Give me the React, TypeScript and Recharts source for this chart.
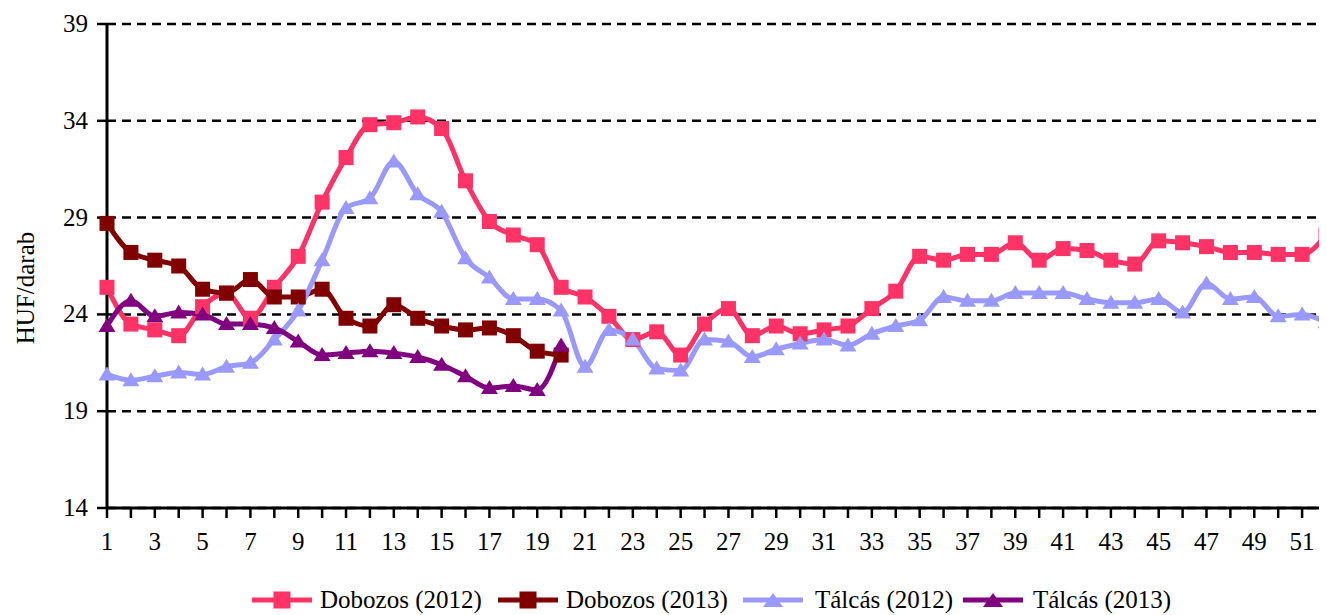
import React from "react";
import { LineChart, Line, XAxis, YAxis, CartesianGrid, Legend } from "recharts";

const weeks = Array.from({ length: 52 }, (_, i) => i + 1);
const xTicks = weeks;
const yTicks = [14, 19, 24, 29, 34, 39];

const dobozos2012 = [
  25.4, 23.5, 23.2, 22.9, 24.4, 25.1, 23.8, 25.4, 27.0, 29.8,
  32.1, 33.8, 33.9, 34.2, 33.6, 30.9, 28.8, 28.1, 27.6, 25.4,
  24.9, 23.9, 22.7, 23.1, 21.9, 23.5, 24.3, 22.9, 23.4, 23.0,
  23.2, 23.4, 24.3, 25.2, 27.0, 26.8, 27.1, 27.1, 27.7, 26.8,
  27.4, 27.3, 26.8, 26.6, 27.8, 27.7, 27.5, 27.2, 27.2, 27.1,
  27.1, 28.1,
];
const dobozos2013 = [
  28.7, 27.2, 26.8, 26.5, 25.3, 25.1, 25.8, 24.9, 24.9, 25.3,
  23.8, 23.4, 24.5, 23.8, 23.4, 23.2, 23.3, 22.9, 22.1, 21.9,
];
const talcas2012 = [
  20.9, 20.6, 20.8, 21.0, 20.9, 21.3, 21.5, 22.7, 24.2, 26.8,
  29.5, 30.0, 31.9, 30.2, 29.3, 26.9, 25.9, 24.8, 24.8, 24.2,
  21.3, 23.2, 22.7, 21.2, 21.1, 22.7, 22.6, 21.8, 22.2, 22.5,
  22.7, 22.4, 23.0, 23.4, 23.7, 24.9, 24.7, 24.7, 25.1, 25.1,
  25.1, 24.8, 24.6, 24.6, 24.8, 24.1, 25.6, 24.8, 24.9, 23.9,
  24.0, 23.6,
];
const talcas2013 = [
  23.4, 24.7, 23.9, 24.1, 24.0, 23.5, 23.5, 23.3, 22.6, 21.9,
  22.0, 22.1, 22.0, 21.8, 21.4, 20.8, 20.2, 20.3, 20.1, 22.4,
];

const seriesInfo = [
  { key: "d2012", name: "Dobozos (2012)", color: "#FF3366", marker: "square" },
  { key: "d2013", name: "Dobozos (2013)", color: "#800000", marker: "square" },
  { key: "t2012", name: "Tálcás (2012)", color: "#9999FF", marker: "triangle" },
  { key: "t2013", name: "Tálcás (2013)", color: "#800080", marker: "triangle" },
];

const data = weeks.map((w, i) => ({
  week: w,
  d2012: dobozos2012[i] ?? null,
  d2013: dobozos2013[i] ?? null,
  t2012: talcas2012[i] ?? null,
  t2013: talcas2013[i] ?? null,
}));

const FONT = "Liberation Serif, Times New Roman, DejaVu Serif, serif";
const FS = 25;

const makeDot = (marker: string, color: string) => (props: any) => {
  const { cx, cy, index } = props;
  if (cx == null || cy == null || props.value == null) return <g key={index} />;
  if (marker === "square") {
    return <rect key={index} x={cx - 7.5} y={cy - 7.5} width={15} height={15} fill={color} />;
  }
  return (
    <polygon
      key={index}
      points={`${cx},${cy - 8} ${cx + 8.5},${cy + 6} ${cx - 8.5},${cy + 6}`}
      fill={color}
    />
  );
};

const XTick = (props: any) => {
  const { x, y, payload } = props;
  if (payload.value % 2 === 0) return <g />;
  return (
    <text x={x} y={y + 30} textAnchor="middle" style={{ fontFamily: FONT }} fontSize={FS} fill="#000">
      {payload.value}
    </text>
  );
};

const YTick = (props: any) => {
  const { x, y, payload } = props;
  return (
    <text x={x - 7} y={y + 8} textAnchor="end" style={{ fontFamily: FONT }} fontSize={FS} fill="#000">
      {payload.value}
    </text>
  );
};

const YLabel = () => (
  <text
    x={0}
    y={0}
    transform="translate(26, 280) rotate(-90)"
    textAnchor="middle"
    style={{ fontFamily: FONT }}
    fontSize={FS}
    fill="#000"
  >
    HUF/darab
  </text>
);

const legendLeft = [0, 246, 491, 711];
const legendTextGap = [68, 68, 72, 70];

const LegendContent = () => (
  <div style={{ position: "relative", width: 940, height: 30, fontFamily: FONT, fontSize: FS, whiteSpace: "nowrap" }}>
    {seriesInfo.map((s, i) => (
      <div key={s.key} style={{ position: "absolute", left: legendLeft[i], top: 0, height: 30, display: "flex", alignItems: "center" }}>
        <svg width={60} height={20} style={{ marginRight: legendTextGap[i] - 60 }}>
          <line x1={0} y1={10} x2={60} y2={10} stroke={s.color} strokeWidth={5} />
          {s.marker === "square" ? (
            <rect x={21.5} y={1.5} width={17} height={17} fill={s.color} />
          ) : (
            <polygon points="30,3 40,17 20,17" fill={s.color} />
          )}
        </svg>
        <span>{s.name}</span>
      </div>
    ))}
  </div>
);

export default function App() {
  return (
    <LineChart
      width={1319}
      height={607}
      data={data}
      margin={{ top: 16, right: 1, left: 0, bottom: 57 }}
    >
      <CartesianGrid
        vertical={false}
        stroke="#000"
        strokeWidth={2.5}
        strokeDasharray="9 6"
      />
      <XAxis
        dataKey="week"
        type="number"
        domain={[1, 52]}
        ticks={xTicks}
        interval={0}
        tick={<XTick />}
        height={50}
        axisLine={{ stroke: "#000", strokeWidth: 3 }}
        tickLine={{ stroke: "#000", strokeWidth: 2.5 }}
        tickSize={10}
        allowDecimals={false}
      />
      <YAxis
        type="number"
        domain={[14, 39]}
        ticks={yTicks}
        interval={0}
        width={99}
        tick={<YTick />}
        axisLine={{ stroke: "#000", strokeWidth: 3 }}
        tickLine={{ stroke: "#000", strokeWidth: 2.5 }}
        tickSize={10}
        label={{ content: <YLabel /> }}
      />
      <Legend
        verticalAlign="middle"
        align="center"
        content={<LegendContent />}
        wrapperStyle={{ top: 577, left: 244, width: 940 }}
      />
      {seriesInfo.map((s) => (
        <Line
          key={s.key}
          dataKey={s.key}
          name={s.name}
          type="monotone"
          stroke={s.color}
          strokeWidth={5}
          dot={makeDot(s.marker, s.color)}
          activeDot={false}
          isAnimationActive={false}
          connectNulls={false}
        />
      ))}
    </LineChart>
  );
}
